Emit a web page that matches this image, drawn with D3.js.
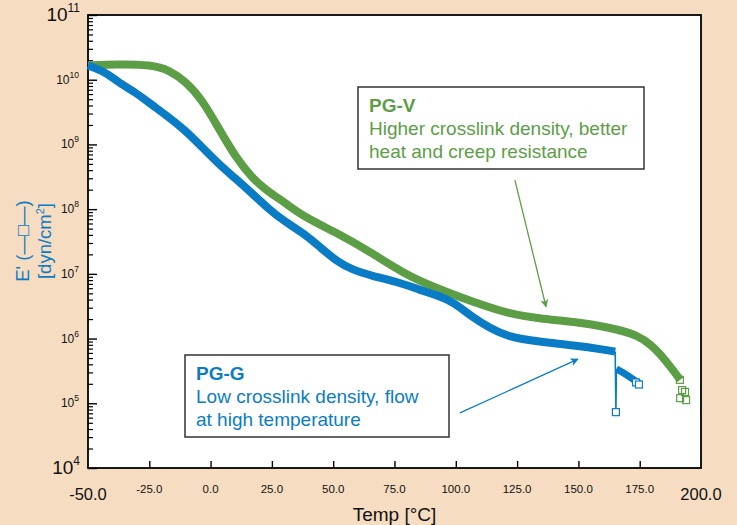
<!DOCTYPE html>
<html>
<head>
<meta charset="utf-8">
<script src="https://cdn.jsdelivr.net/npm/d3@7"></script>
<style>
  body { margin: 0; background: #f6ddc2; }
  svg { display: block; font-family: "Liberation Sans", Arial, sans-serif; }
</style>
</head>
<body>
<div id="chart"></div>
<script>
// axis ticks
const tempTicks = [-50, -25, 0, 25, 50, 75, 100, 125, 150, 175, 200];
const decadeExps = [4, 5, 6, 7, 8, 9, 10, 11];

// PG-V (green) storage modulus
const pgvTemp = [-50, -38, -24, -17, -10, -3.5, 3, 10, 17, 23.5, 30, 38, 51.5, 65, 78.5, 92, 107, 121, 134, 148, 162, 175, 180, 183, 188.5, 191.5];
const pgvE = [1.66e10, 1.74e10, 1.70e10, 1.41e10, 9.3e9, 4.9e9, 1.86e9, 6.5e8, 3.0e8, 1.86e8, 1.29e8, 7.6e7, 4.3e7, 2.2e7, 1.02e7, 6.0e6, 3.7e6, 2.45e6, 2.04e6, 1.82e6, 1.51e6, 1.12e6, 7.6e5, 6.0e5, 3.3e5, 2.3e5];
const pgvTailTemp = [191.4, 192.3, 193.5, 191.5, 193.9];
const pgvTailE = [2.3e5, 1.6e5, 1.5e5, 1.2e5, 1.12e5];

// PG-G (blue) storage modulus
const pggTemp = [-50, -43, -38, -31, -24, -17.4, -10.4, -3.5, 3, 10, 17, 23.5, 30, 37.7, 44.6, 51.5, 58, 65, 78.5, 85.4, 92.3, 99, 107, 114, 121, 134, 148, 162, 165];
const pggE = [1.66e10, 1.32e10, 9.3e9, 6.5e9, 4.1e9, 2.7e9, 1.66e9, 9.1e8, 5.1e8, 3.0e8, 1.74e8, 1.02e8, 6.5e7, 4.3e7, 2.6e7, 1.55e7, 1.15e7, 9.5e6, 7.1e6, 5.6e6, 4.7e6, 3.7e6, 2.1e6, 1.45e6, 1.07e6, 8.9e5, 7.9e5, 6.6e5, 6.3e5];
const pggDropTemp = [165, 165.3, 165.5];
const pggDropE = [6.3e5, 7.3e4, 3.4e5];
const pggEndTemp = [165.5, 168.5, 172, 175];
const pggEndE = [3.4e5, 2.95e5, 2.4e5, 2.0e5];
const pggTailTemp = [165.3, 173.5, 174.7];
const pggTailE = [7.3e4, 2.1e5, 1.95e5];

const green = "#5c9e46";
const blue = "#0a7cc6";

const width = 737, height = 525;
const svg = d3.select("#chart").append("svg")
  .attr("width", width)
  .attr("height", height);

svg.append("rect").attr("width", width).attr("height", height).attr("fill", "#f6ddc2");

const x = d3.scaleLinear().domain([-50, 200]).range([88, 701]);
const y = d3.scaleLog().domain([1e4, 1e11]).range([468, 15]);

svg.append("rect")
  .attr("x", x(-50)).attr("y", y(1e11))
  .attr("width", x(200) - x(-50)).attr("height", y(1e4) - y(1e11))
  .attr("fill", "#fff");

const zip = (a, b) => a.map((v, i) => [v, b[i]]);
const line = d3.line().x(d => x(d[0])).y(d => y(d[1])).curve(d3.curveBasis);
const straight = d3.line().x(d => x(d[0])).y(d => y(d[1]));

// minor + major y ticks
const minorVals = [];
decadeExps.slice(0, -1).forEach(e => {
  for (let k = 2; k <= 9; k++) minorVals.push(k * Math.pow(10, e));
});
svg.append("g")
  .attr("transform", `translate(${x(-50)},0)`)
  .call(d3.axisLeft(y).tickValues(minorVals).tickSize(-5).tickFormat(""))
  .call(g => g.select(".domain").remove())
  .call(g => g.selectAll("line").attr("stroke", "#000").attr("stroke-width", 1.2));
svg.append("g")
  .attr("transform", `translate(${x(-50)},0)`)
  .call(d3.axisLeft(y).tickValues(decadeExps.map(e => Math.pow(10, e))).tickSize(-9).tickFormat(""))
  .call(g => g.select(".domain").remove())
  .call(g => g.selectAll("line").attr("stroke", "#000").attr("stroke-width", 1.4));

// x ticks (inward)
svg.append("g")
  .attr("transform", `translate(0,${y(1e4)})`)
  .call(d3.axisBottom(x).tickValues(tempTicks.slice(1, -1)).tickSize(-7).tickFormat(""))
  .call(g => g.select(".domain").remove())
  .call(g => g.selectAll("line").attr("stroke", "#000").attr("stroke-width", 1.4));

// frame
svg.append("rect")
  .attr("x", x(-50)).attr("y", y(1e11))
  .attr("width", x(200) - x(-50)).attr("height", y(1e4) - y(1e11))
  .attr("fill", "none").attr("stroke", "#000").attr("stroke-width", 1.8);

// y tick labels
decadeExps.forEach(e => {
  const big = (e === 11 || e === 4);
  const t = svg.append("text")
    .attr("x", big ? 80 : 79)
    .attr("y", y(Math.pow(10, e)) + (big ? 6 : 4))
    .attr("text-anchor", "end")
    .attr("fill", "#111")
    .style("font-size", big ? "19px" : "12px");
  t.append("tspan").text("10");
  t.append("tspan")
    .attr("dy", big ? -9 : -6)
    .style("font-size", big ? "12px" : "8.5px")
    .text(e);
});

// x tick labels
tempTicks.forEach((v, i) => {
  const big = (i === 0 || i === tempTicks.length - 1);
  svg.append("text")
    .attr("x", x(v))
    .attr("y", big ? 500 : 493)
    .attr("text-anchor", "middle")
    .attr("fill", "#111")
    .style("font-size", big ? "16.5px" : "11.5px")
    .text(v.toFixed(1));
});

svg.append("text")
  .attr("x", x(75)).attr("y", 521)
  .attr("text-anchor", "middle")
  .attr("fill", "#111")
  .style("font-size", "19px")
  .text("Temp [°C]");

// y axis label
const yl = svg.append("g").attr("transform", "translate(0,241) rotate(-90)");
yl.append("text").attr("x", 0).attr("y", 29)
  .attr("text-anchor", "middle").attr("fill", blue)
  .style("font-size", "18.5px")
  .text("E' (—□—)");
yl.append("text").attr("x", 0).attr("y", 51)
  .attr("text-anchor", "middle").attr("fill", blue)
  .style("font-size", "18.5px")
  .html("[dyn/cm<tspan dy='-7' font-size='11px'>2</tspan><tspan dy='7'>]</tspan>");

// curves
const plot = svg.append("g");

plot.append("path")
  .attr("d", line(zip(pgvTemp, pgvE)))
  .attr("fill", "none").attr("stroke", green)
  .attr("stroke-width", 8).attr("stroke-linejoin", "round");

plot.selectAll(".pgv-sq")
  .data(zip(pgvTailTemp, pgvTailE))
  .enter().append("rect")
  .attr("x", d => x(d[0]) - 3.5).attr("y", d => y(d[1]) - 3.5)
  .attr("width", 7).attr("height", 7)
  .attr("fill", "none").attr("stroke", green).attr("stroke-width", 1.2);

plot.append("path")
  .attr("d", line(zip(pggTemp, pggE)))
  .attr("fill", "none").attr("stroke", blue)
  .attr("stroke-width", 8).attr("stroke-linejoin", "round");

plot.append("path")
  .attr("d", straight(zip(pggDropTemp, pggDropE)))
  .attr("fill", "none").attr("stroke", blue).attr("stroke-width", 1.6);

plot.append("path")
  .attr("d", line(zip(pggEndTemp, pggEndE)))
  .attr("fill", "none").attr("stroke", blue)
  .attr("stroke-width", 7).attr("stroke-linejoin", "round");

plot.selectAll(".pgg-sq")
  .data(zip(pggTailTemp, pggTailE))
  .enter().append("rect")
  .attr("x", d => x(d[0]) - 3.5).attr("y", d => y(d[1]) - 3.5)
  .attr("width", 7).attr("height", 7)
  .attr("fill", "#fff").attr("stroke", blue).attr("stroke-width", 1.2);

// arrows
const defs = svg.append("defs");
[["arrG", green], ["arrB", blue]].forEach(([id, c]) => {
  defs.append("marker")
    .attr("id", id).attr("viewBox", "0 0 10 10")
    .attr("refX", 9).attr("refY", 5)
    .attr("markerWidth", 10).attr("markerHeight", 8)
    .attr("markerUnits", "userSpaceOnUse")
    .attr("orient", "auto")
    .append("path").attr("d", "M0,0 L10,5 L0,10 L2.5,5 Z").attr("fill", c);
});
// green arrow: from note to PG-V curve
svg.append("line")
  .attr("x1", x(124.1)).attr("y1", y(2.8e8))
  .attr("x2", x(136.8)).attr("y2", y(3.1e6))
  .attr("stroke", green).attr("stroke-width", 1.3)
  .attr("marker-end", "url(#arrG)");
// blue arrow
svg.append("line")
  .attr("x1", x(101.7)).attr("y1", y(7.1e4))
  .attr("x2", x(149.8)).attr("y2", y(4.8e5))
  .attr("stroke", blue).attr("stroke-width", 1.3)
  .attr("marker-end", "url(#arrB)");

// annotation boxes
function note(bx, by, bw, bh, color, lines) {
  const g = svg.append("g");
  g.append("rect")
    .attr("x", bx).attr("y", by).attr("width", bw).attr("height", bh)
    .attr("fill", "#fff").attr("stroke", "#333").attr("stroke-width", 1.5);
  lines.forEach((s, i) => {
    g.append("text")
      .attr("x", bx + 11).attr("y", by + 25 + i * 23)
      .attr("fill", color)
      .style("font-size", "19px")
      .style("font-weight", i === 0 ? "bold" : "normal")
      .text(s);
  });
}
note(358, 87, 286, 82, green, ["PG-V", "Higher crosslink density, better", "heat and creep resistance"]);
note(185, 355, 264, 82, blue, ["PG-G", "Low crosslink density, flow", "at high temperature"]);
</script>
</body>
</html>
